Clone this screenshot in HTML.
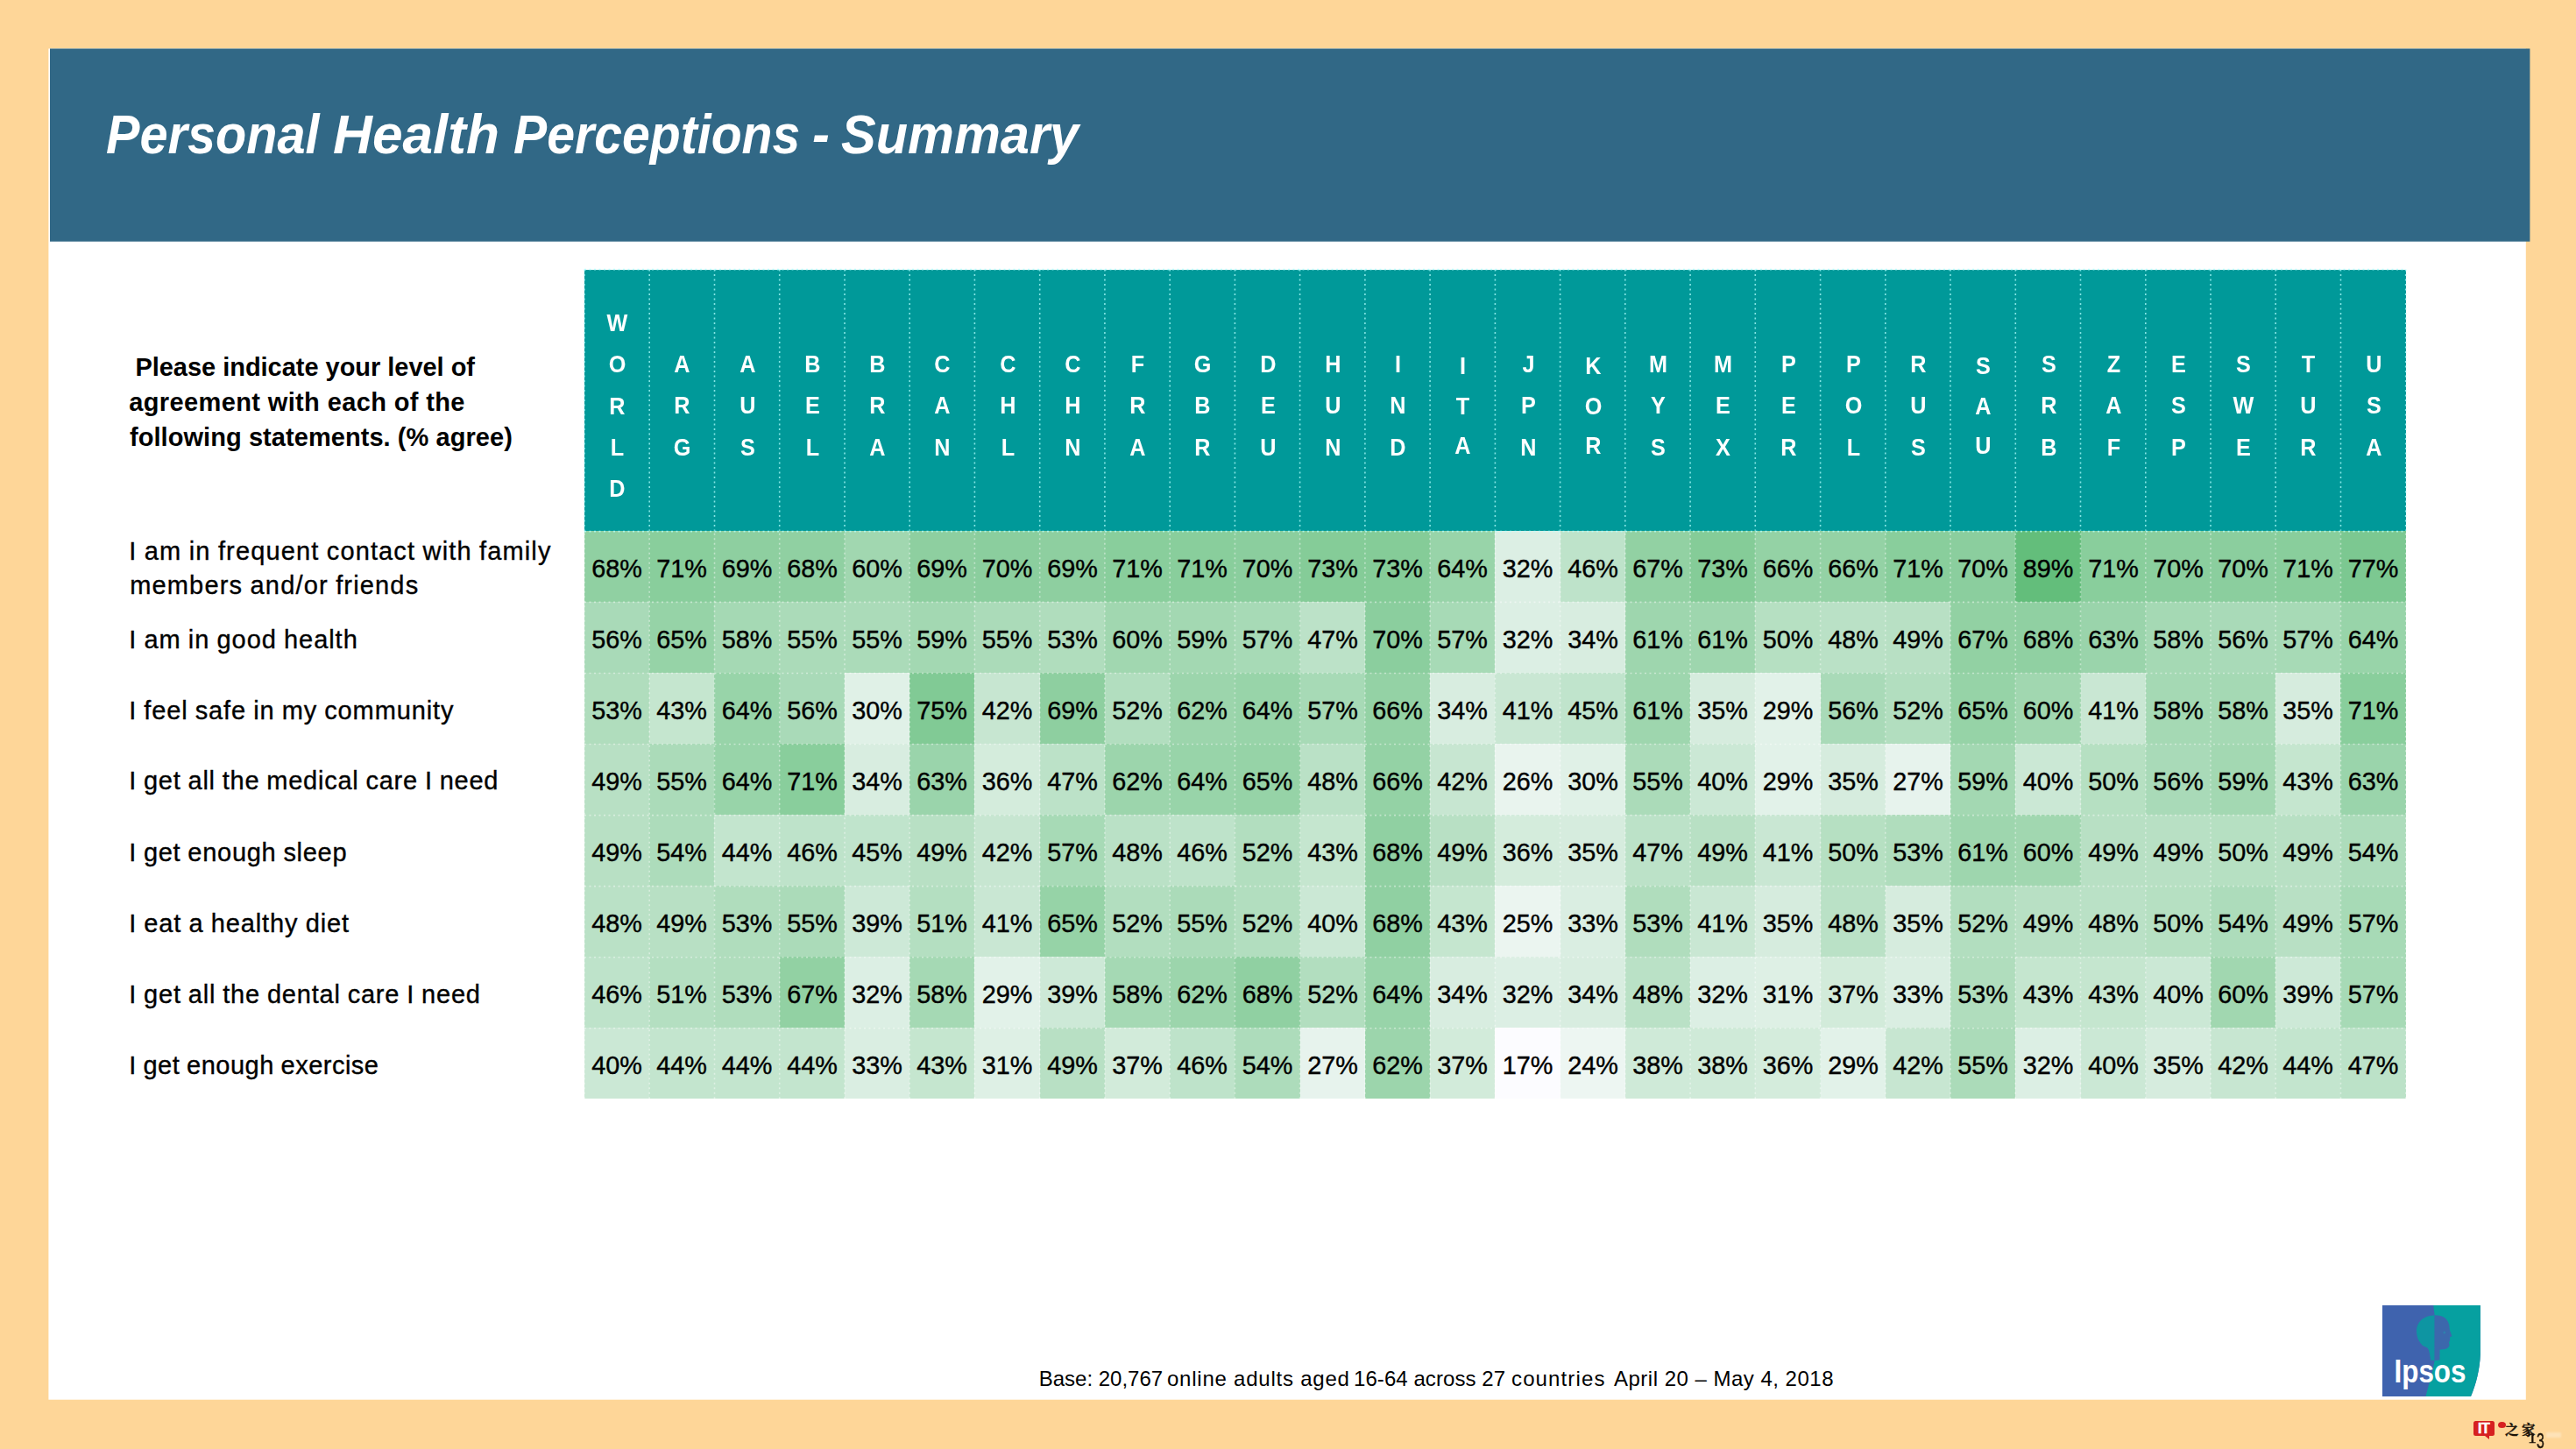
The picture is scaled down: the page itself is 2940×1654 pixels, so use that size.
<!DOCTYPE html>
<html lang="en">
<head>
<meta charset="utf-8">
<title>Personal Health Perceptions - Summary</title>
<style>
html,body{margin:0;padding:0;}
body{width:2940px;height:1654px;background:#fed698;position:relative;overflow:hidden;font-family:"Liberation Sans",sans-serif;color:#000;}
.abs{position:absolute;}
.t{position:absolute;white-space:pre;margin:0;}
#title{font-size:63px;line-height:72px;font-weight:bold;font-style:italic;color:#fff;}
.hc{position:absolute;top:308px;height:298px;box-sizing:border-box;padding-top:28px;background:#009999;color:#fff;font-weight:bold;font-size:28px;line-height:47.3px;text-align:center;display:flex;align-items:center;justify-content:center;}
.dc{position:absolute;box-sizing:border-box;padding-top:5px;font-size:28.8px;-webkit-text-stroke:0.4px #000;text-align:center;white-space:nowrap;}
.lab{font-size:29px;line-height:40px;word-spacing:-0.8px;-webkit-text-stroke:0.35px #000;}
.q{font-size:29px;line-height:40px;font-weight:bold;}
#foot{font-size:24px;line-height:32px;}
.hc span{display:inline-block;writing-mode:vertical-rl;text-orientation:upright;line-height:28px;letter-spacing:16.3px;transform:scaleX(.9);}
#grid{position:absolute;left:0;top:0;}
#logo{position:absolute;left:2719px;top:1490px;}
#wm{position:absolute;left:2823px;top:1622px;width:23.5px;height:17px;background:#d62020;border-radius:2.5px;color:#fff;font-weight:bold;font-size:16px;line-height:17.5px;text-align:center;letter-spacing:-0.3px;-webkit-text-stroke:0.5px #fff;}
#wm:after{content:"";position:absolute;left:13px;top:16.5px;border-left:5px solid transparent;border-top:4px solid #d62020;}
#wmdot{position:absolute;left:2851px;top:1622.5px;width:9px;height:7px;border-radius:50%;background:#d62020;}
#wmcn{font-family:"Liberation Serif","Noto Serif CJK SC",serif;font-weight:bold;font-size:15.5px;line-height:20px;letter-spacing:3.5px;color:#1a1208;-webkit-text-stroke:0.4px #1a1208;}
#pg{font-size:17px;line-height:20px;color:#1a1208;-webkit-text-stroke:0.4px #1a1208;}
</style>
</head>
<body>
<svg id="bg" class="abs" style="left:0;top:0" width="2940" height="1654" viewBox="0 0 2940 1654">
<rect x="55.4" y="55.5" width="2827.4" height="1542.2" fill="#fff"/>
<rect x="57" y="55.5" width="2830.4" height="220.2" fill="#316886"/>
</svg>
<div id="title" class="t" style="left:0;top:117.2px"><span id="tw0" style="position:absolute;left:121.1px;top:0;transform-origin:0 0;transform:scaleX(0.9154)">Personal </span><span id="tw1" style="position:absolute;left:379.5px;top:0;transform-origin:0 0;transform:scaleX(0.9868)">Health </span><span id="tw2" style="position:absolute;left:585.5px;top:0;transform-origin:0 0;transform:scaleX(0.9076)">Perceptions </span><span id="tw3" style="position:absolute;left:927.0px;top:0;transform-origin:0 0;transform:scaleX(0.9427)">- </span><span id="tw4" style="position:absolute;left:960.0px;top:0;transform-origin:0 0;transform:scaleX(0.9444)">Summary</span></div>
<div id="q0" class="t q" style="left:146.4px;top:398.9px;letter-spacing:-0.031px"> Please indicate your level of</div>
<div id="q1" class="t q" style="left:147.2px;top:438.9px;letter-spacing:0.378px">agreement with each of the</div>
<div id="q2" class="t q" style="left:148.0px;top:478.6px;letter-spacing:0.060px">following statements. (% agree)</div>
<div class="hc" style="left:667px;width:74px"><span>WORLD</span></div>
<div class="hc" style="left:741px;width:74px"><span>ARG</span></div>
<div class="hc" style="left:815px;width:75px"><span>AUS</span></div>
<div class="hc" style="left:890px;width:74px"><span>BEL</span></div>
<div class="hc" style="left:964px;width:74px"><span>BRA</span></div>
<div class="hc" style="left:1038px;width:74px"><span>CAN</span></div>
<div class="hc" style="left:1112px;width:75px"><span>CHL</span></div>
<div class="hc" style="left:1187px;width:74px"><span>CHN</span></div>
<div class="hc" style="left:1261px;width:74px"><span>FRA</span></div>
<div class="hc" style="left:1335px;width:74px"><span>GBR</span></div>
<div class="hc" style="left:1409px;width:75px"><span>DEU</span></div>
<div class="hc" style="left:1484px;width:74px"><span>HUN</span></div>
<div class="hc" style="left:1558px;width:74px"><span>IND</span></div>
<div class="hc" style="left:1632px;width:74px"><span style="letter-spacing:14.7px">ITA</span></div>
<div class="hc" style="left:1706px;width:75px"><span>JPN</span></div>
<div class="hc" style="left:1781px;width:74px"><span style="letter-spacing:14.7px">KOR</span></div>
<div class="hc" style="left:1855px;width:74px"><span>MYS</span></div>
<div class="hc" style="left:1929px;width:74px"><span>MEX</span></div>
<div class="hc" style="left:2003px;width:75px"><span>PER</span></div>
<div class="hc" style="left:2078px;width:74px"><span>POL</span></div>
<div class="hc" style="left:2152px;width:74px"><span>RUS</span></div>
<div class="hc" style="left:2226px;width:74px"><span style="letter-spacing:14.7px">SAU</span></div>
<div class="hc" style="left:2300px;width:75px"><span>SRB</span></div>
<div class="hc" style="left:2375px;width:74px"><span>ZAF</span></div>
<div class="hc" style="left:2449px;width:74px"><span>ESP</span></div>
<div class="hc" style="left:2523px;width:74px"><span>SWE</span></div>
<div class="hc" style="left:2597px;width:74px"><span>TUR</span></div>
<div class="hc" style="left:2671px;width:75px"><span>USA</span></div>
<div id="lab0_0" class="t lab" style="left:147.2px;top:608.7px;letter-spacing:1.131px">I am in frequent contact with family</div>
<div id="lab0_1" class="t lab" style="left:148.2px;top:648.4px;letter-spacing:1.157px">members and/or friends</div>
<div class="dc" style="left:667px;top:606px;width:74px;height:81px;line-height:76px;background:#90d0a2">68%</div>
<div class="dc" style="left:741px;top:606px;width:74px;height:81px;line-height:76px;background:#89ce9c">71%</div>
<div class="dc" style="left:815px;top:606px;width:75px;height:81px;line-height:76px;background:#8ecfa0">69%</div>
<div class="dc" style="left:890px;top:606px;width:74px;height:81px;line-height:76px;background:#90d0a2">68%</div>
<div class="dc" style="left:964px;top:606px;width:74px;height:81px;line-height:76px;background:#a1d7b0">60%</div>
<div class="dc" style="left:1038px;top:606px;width:74px;height:81px;line-height:76px;background:#8ecfa0">69%</div>
<div class="dc" style="left:1112px;top:606px;width:75px;height:81px;line-height:76px;background:#8bce9e">70%</div>
<div class="dc" style="left:1187px;top:606px;width:74px;height:81px;line-height:76px;background:#8ecfa0">69%</div>
<div class="dc" style="left:1261px;top:606px;width:74px;height:81px;line-height:76px;background:#89ce9c">71%</div>
<div class="dc" style="left:1335px;top:606px;width:74px;height:81px;line-height:76px;background:#89ce9c">71%</div>
<div class="dc" style="left:1409px;top:606px;width:75px;height:81px;line-height:76px;background:#8bce9e">70%</div>
<div class="dc" style="left:1484px;top:606px;width:74px;height:81px;line-height:76px;background:#85cc98">73%</div>
<div class="dc" style="left:1558px;top:606px;width:74px;height:81px;line-height:76px;background:#85cc98">73%</div>
<div class="dc" style="left:1632px;top:606px;width:74px;height:81px;line-height:76px;background:#98d4a9">64%</div>
<div class="dc" style="left:1706px;top:606px;width:75px;height:81px;line-height:76px;background:#dcefe4">32%</div>
<div class="dc" style="left:1781px;top:606px;width:74px;height:81px;line-height:76px;background:#bee3ca">46%</div>
<div class="dc" style="left:1855px;top:606px;width:74px;height:81px;line-height:76px;background:#92d1a3">67%</div>
<div class="dc" style="left:1929px;top:606px;width:74px;height:81px;line-height:76px;background:#85cc98">73%</div>
<div class="dc" style="left:2003px;top:606px;width:75px;height:81px;line-height:76px;background:#94d2a5">66%</div>
<div class="dc" style="left:2078px;top:606px;width:74px;height:81px;line-height:76px;background:#94d2a5">66%</div>
<div class="dc" style="left:2152px;top:606px;width:74px;height:81px;line-height:76px;background:#89ce9c">71%</div>
<div class="dc" style="left:2226px;top:606px;width:74px;height:81px;line-height:76px;background:#8bce9e">70%</div>
<div class="dc" style="left:2300px;top:606px;width:75px;height:81px;line-height:76px;background:#63be7b">89%</div>
<div class="dc" style="left:2375px;top:606px;width:74px;height:81px;line-height:76px;background:#89ce9c">71%</div>
<div class="dc" style="left:2449px;top:606px;width:74px;height:81px;line-height:76px;background:#8bce9e">70%</div>
<div class="dc" style="left:2523px;top:606px;width:74px;height:81px;line-height:76px;background:#8bce9e">70%</div>
<div class="dc" style="left:2597px;top:606px;width:74px;height:81px;line-height:76px;background:#89ce9c">71%</div>
<div class="dc" style="left:2671px;top:606px;width:75px;height:81px;line-height:76px;background:#7cc891">77%</div>
<div id="lab1_0" class="t lab" style="left:147.2px;top:709.6px;letter-spacing:0.950px">I am in good health</div>
<div class="dc" style="left:667px;top:687px;width:74px;height:81px;line-height:76px;background:#a9dab8">56%</div>
<div class="dc" style="left:741px;top:687px;width:74px;height:81px;line-height:76px;background:#96d3a7">65%</div>
<div class="dc" style="left:815px;top:687px;width:75px;height:81px;line-height:76px;background:#a5d9b4">58%</div>
<div class="dc" style="left:890px;top:687px;width:74px;height:81px;line-height:76px;background:#abdbb9">55%</div>
<div class="dc" style="left:964px;top:687px;width:74px;height:81px;line-height:76px;background:#abdbb9">55%</div>
<div class="dc" style="left:1038px;top:687px;width:74px;height:81px;line-height:76px;background:#a3d8b2">59%</div>
<div class="dc" style="left:1112px;top:687px;width:75px;height:81px;line-height:76px;background:#abdbb9">55%</div>
<div class="dc" style="left:1187px;top:687px;width:74px;height:81px;line-height:76px;background:#b0ddbd">53%</div>
<div class="dc" style="left:1261px;top:687px;width:74px;height:81px;line-height:76px;background:#a1d7b0">60%</div>
<div class="dc" style="left:1335px;top:687px;width:74px;height:81px;line-height:76px;background:#a3d8b2">59%</div>
<div class="dc" style="left:1409px;top:687px;width:75px;height:81px;line-height:76px;background:#a7dab6">57%</div>
<div class="dc" style="left:1484px;top:687px;width:74px;height:81px;line-height:76px;background:#bce2c8">47%</div>
<div class="dc" style="left:1558px;top:687px;width:74px;height:81px;line-height:76px;background:#8bce9e">70%</div>
<div class="dc" style="left:1632px;top:687px;width:74px;height:81px;line-height:76px;background:#a7dab6">57%</div>
<div class="dc" style="left:1706px;top:687px;width:75px;height:81px;line-height:76px;background:#dcefe4">32%</div>
<div class="dc" style="left:1781px;top:687px;width:74px;height:81px;line-height:76px;background:#d8ede0">34%</div>
<div class="dc" style="left:1855px;top:687px;width:74px;height:81px;line-height:76px;background:#9ed6ae">61%</div>
<div class="dc" style="left:1929px;top:687px;width:74px;height:81px;line-height:76px;background:#9ed6ae">61%</div>
<div class="dc" style="left:2003px;top:687px;width:75px;height:81px;line-height:76px;background:#b6e0c2">50%</div>
<div class="dc" style="left:2078px;top:687px;width:74px;height:81px;line-height:76px;background:#bae1c6">48%</div>
<div class="dc" style="left:2152px;top:687px;width:74px;height:81px;line-height:76px;background:#b8e0c4">49%</div>
<div class="dc" style="left:2226px;top:687px;width:74px;height:81px;line-height:76px;background:#92d1a3">67%</div>
<div class="dc" style="left:2300px;top:687px;width:75px;height:81px;line-height:76px;background:#90d0a2">68%</div>
<div class="dc" style="left:2375px;top:687px;width:74px;height:81px;line-height:76px;background:#9ad4ab">63%</div>
<div class="dc" style="left:2449px;top:687px;width:74px;height:81px;line-height:76px;background:#a5d9b4">58%</div>
<div class="dc" style="left:2523px;top:687px;width:74px;height:81px;line-height:76px;background:#a9dab8">56%</div>
<div class="dc" style="left:2597px;top:687px;width:74px;height:81px;line-height:76px;background:#a7dab6">57%</div>
<div class="dc" style="left:2671px;top:687px;width:75px;height:81px;line-height:76px;background:#98d4a9">64%</div>
<div id="lab2_0" class="t lab" style="left:147.2px;top:790.6px;letter-spacing:0.883px">I feel safe in my community</div>
<div class="dc" style="left:667px;top:768px;width:74px;height:81px;line-height:76px;background:#b0ddbd">53%</div>
<div class="dc" style="left:741px;top:768px;width:74px;height:81px;line-height:76px;background:#c5e6cf">43%</div>
<div class="dc" style="left:815px;top:768px;width:75px;height:81px;line-height:76px;background:#98d4a9">64%</div>
<div class="dc" style="left:890px;top:768px;width:74px;height:81px;line-height:76px;background:#a9dab8">56%</div>
<div class="dc" style="left:964px;top:768px;width:74px;height:81px;line-height:76px;background:#e0f1e7">30%</div>
<div class="dc" style="left:1038px;top:768px;width:74px;height:81px;line-height:76px;background:#81ca95">75%</div>
<div class="dc" style="left:1112px;top:768px;width:75px;height:81px;line-height:76px;background:#c7e6d1">42%</div>
<div class="dc" style="left:1187px;top:768px;width:74px;height:81px;line-height:76px;background:#8ecfa0">69%</div>
<div class="dc" style="left:1261px;top:768px;width:74px;height:81px;line-height:76px;background:#b2debf">52%</div>
<div class="dc" style="left:1335px;top:768px;width:74px;height:81px;line-height:76px;background:#9cd5ac">62%</div>
<div class="dc" style="left:1409px;top:768px;width:75px;height:81px;line-height:76px;background:#98d4a9">64%</div>
<div class="dc" style="left:1484px;top:768px;width:74px;height:81px;line-height:76px;background:#a7dab6">57%</div>
<div class="dc" style="left:1558px;top:768px;width:74px;height:81px;line-height:76px;background:#94d2a5">66%</div>
<div class="dc" style="left:1632px;top:768px;width:74px;height:81px;line-height:76px;background:#d8ede0">34%</div>
<div class="dc" style="left:1706px;top:768px;width:75px;height:81px;line-height:76px;background:#c9e7d3">41%</div>
<div class="dc" style="left:1781px;top:768px;width:74px;height:81px;line-height:76px;background:#c0e4cc">45%</div>
<div class="dc" style="left:1855px;top:768px;width:74px;height:81px;line-height:76px;background:#9ed6ae">61%</div>
<div class="dc" style="left:1929px;top:768px;width:74px;height:81px;line-height:76px;background:#d6ecde">35%</div>
<div class="dc" style="left:2003px;top:768px;width:75px;height:81px;line-height:76px;background:#e2f2e9">29%</div>
<div class="dc" style="left:2078px;top:768px;width:74px;height:81px;line-height:76px;background:#a9dab8">56%</div>
<div class="dc" style="left:2152px;top:768px;width:74px;height:81px;line-height:76px;background:#b2debf">52%</div>
<div class="dc" style="left:2226px;top:768px;width:74px;height:81px;line-height:76px;background:#96d3a7">65%</div>
<div class="dc" style="left:2300px;top:768px;width:75px;height:81px;line-height:76px;background:#a1d7b0">60%</div>
<div class="dc" style="left:2375px;top:768px;width:74px;height:81px;line-height:76px;background:#c9e7d3">41%</div>
<div class="dc" style="left:2449px;top:768px;width:74px;height:81px;line-height:76px;background:#a5d9b4">58%</div>
<div class="dc" style="left:2523px;top:768px;width:74px;height:81px;line-height:76px;background:#a5d9b4">58%</div>
<div class="dc" style="left:2597px;top:768px;width:74px;height:81px;line-height:76px;background:#d6ecde">35%</div>
<div class="dc" style="left:2671px;top:768px;width:75px;height:81px;line-height:76px;background:#89ce9c">71%</div>
<div id="lab3_0" class="t lab" style="left:147.2px;top:871.4px;letter-spacing:0.745px">I get all the medical care I need</div>
<div class="dc" style="left:667px;top:849px;width:74px;height:81px;line-height:76px;background:#b8e0c4">49%</div>
<div class="dc" style="left:741px;top:849px;width:74px;height:81px;line-height:76px;background:#abdbb9">55%</div>
<div class="dc" style="left:815px;top:849px;width:75px;height:81px;line-height:76px;background:#98d4a9">64%</div>
<div class="dc" style="left:890px;top:849px;width:74px;height:81px;line-height:76px;background:#89ce9c">71%</div>
<div class="dc" style="left:964px;top:849px;width:74px;height:81px;line-height:76px;background:#d8ede0">34%</div>
<div class="dc" style="left:1038px;top:849px;width:74px;height:81px;line-height:76px;background:#9ad4ab">63%</div>
<div class="dc" style="left:1112px;top:849px;width:75px;height:81px;line-height:76px;background:#d4ecdc">36%</div>
<div class="dc" style="left:1187px;top:849px;width:74px;height:81px;line-height:76px;background:#bce2c8">47%</div>
<div class="dc" style="left:1261px;top:849px;width:74px;height:81px;line-height:76px;background:#9cd5ac">62%</div>
<div class="dc" style="left:1335px;top:849px;width:74px;height:81px;line-height:76px;background:#98d4a9">64%</div>
<div class="dc" style="left:1409px;top:849px;width:75px;height:81px;line-height:76px;background:#96d3a7">65%</div>
<div class="dc" style="left:1484px;top:849px;width:74px;height:81px;line-height:76px;background:#bae1c6">48%</div>
<div class="dc" style="left:1558px;top:849px;width:74px;height:81px;line-height:76px;background:#94d2a5">66%</div>
<div class="dc" style="left:1632px;top:849px;width:74px;height:81px;line-height:76px;background:#c7e6d1">42%</div>
<div class="dc" style="left:1706px;top:849px;width:75px;height:81px;line-height:76px;background:#e9f4ee">26%</div>
<div class="dc" style="left:1781px;top:849px;width:74px;height:81px;line-height:76px;background:#e0f1e7">30%</div>
<div class="dc" style="left:1855px;top:849px;width:74px;height:81px;line-height:76px;background:#abdbb9">55%</div>
<div class="dc" style="left:1929px;top:849px;width:74px;height:81px;line-height:76px;background:#cbe8d5">40%</div>
<div class="dc" style="left:2003px;top:849px;width:75px;height:81px;line-height:76px;background:#e2f2e9">29%</div>
<div class="dc" style="left:2078px;top:849px;width:74px;height:81px;line-height:76px;background:#d6ecde">35%</div>
<div class="dc" style="left:2152px;top:849px;width:74px;height:81px;line-height:76px;background:#e7f3ed">27%</div>
<div class="dc" style="left:2226px;top:849px;width:74px;height:81px;line-height:76px;background:#a3d8b2">59%</div>
<div class="dc" style="left:2300px;top:849px;width:75px;height:81px;line-height:76px;background:#cbe8d5">40%</div>
<div class="dc" style="left:2375px;top:849px;width:74px;height:81px;line-height:76px;background:#b6e0c2">50%</div>
<div class="dc" style="left:2449px;top:849px;width:74px;height:81px;line-height:76px;background:#a9dab8">56%</div>
<div class="dc" style="left:2523px;top:849px;width:74px;height:81px;line-height:76px;background:#a3d8b2">59%</div>
<div class="dc" style="left:2597px;top:849px;width:74px;height:81px;line-height:76px;background:#c5e6cf">43%</div>
<div class="dc" style="left:2671px;top:849px;width:75px;height:81px;line-height:76px;background:#9ad4ab">63%</div>
<div id="lab4_0" class="t lab" style="left:147.2px;top:952.5px;letter-spacing:0.715px">I get enough sleep</div>
<div class="dc" style="left:667px;top:930px;width:74px;height:81px;line-height:76px;background:#b8e0c4">49%</div>
<div class="dc" style="left:741px;top:930px;width:74px;height:81px;line-height:76px;background:#addcbb">54%</div>
<div class="dc" style="left:815px;top:930px;width:75px;height:81px;line-height:76px;background:#c3e5ce">44%</div>
<div class="dc" style="left:890px;top:930px;width:74px;height:81px;line-height:76px;background:#bee3ca">46%</div>
<div class="dc" style="left:964px;top:930px;width:74px;height:81px;line-height:76px;background:#c0e4cc">45%</div>
<div class="dc" style="left:1038px;top:930px;width:74px;height:81px;line-height:76px;background:#b8e0c4">49%</div>
<div class="dc" style="left:1112px;top:930px;width:75px;height:81px;line-height:76px;background:#c7e6d1">42%</div>
<div class="dc" style="left:1187px;top:930px;width:74px;height:81px;line-height:76px;background:#a7dab6">57%</div>
<div class="dc" style="left:1261px;top:930px;width:74px;height:81px;line-height:76px;background:#bae1c6">48%</div>
<div class="dc" style="left:1335px;top:930px;width:74px;height:81px;line-height:76px;background:#bee3ca">46%</div>
<div class="dc" style="left:1409px;top:930px;width:75px;height:81px;line-height:76px;background:#b2debf">52%</div>
<div class="dc" style="left:1484px;top:930px;width:74px;height:81px;line-height:76px;background:#c5e6cf">43%</div>
<div class="dc" style="left:1558px;top:930px;width:74px;height:81px;line-height:76px;background:#90d0a2">68%</div>
<div class="dc" style="left:1632px;top:930px;width:74px;height:81px;line-height:76px;background:#b8e0c4">49%</div>
<div class="dc" style="left:1706px;top:930px;width:75px;height:81px;line-height:76px;background:#d4ecdc">36%</div>
<div class="dc" style="left:1781px;top:930px;width:74px;height:81px;line-height:76px;background:#d6ecde">35%</div>
<div class="dc" style="left:1855px;top:930px;width:74px;height:81px;line-height:76px;background:#bce2c8">47%</div>
<div class="dc" style="left:1929px;top:930px;width:74px;height:81px;line-height:76px;background:#b8e0c4">49%</div>
<div class="dc" style="left:2003px;top:930px;width:75px;height:81px;line-height:76px;background:#c9e7d3">41%</div>
<div class="dc" style="left:2078px;top:930px;width:74px;height:81px;line-height:76px;background:#b6e0c2">50%</div>
<div class="dc" style="left:2152px;top:930px;width:74px;height:81px;line-height:76px;background:#b0ddbd">53%</div>
<div class="dc" style="left:2226px;top:930px;width:74px;height:81px;line-height:76px;background:#9ed6ae">61%</div>
<div class="dc" style="left:2300px;top:930px;width:75px;height:81px;line-height:76px;background:#a1d7b0">60%</div>
<div class="dc" style="left:2375px;top:930px;width:74px;height:81px;line-height:76px;background:#b8e0c4">49%</div>
<div class="dc" style="left:2449px;top:930px;width:74px;height:81px;line-height:76px;background:#b8e0c4">49%</div>
<div class="dc" style="left:2523px;top:930px;width:74px;height:81px;line-height:76px;background:#b6e0c2">50%</div>
<div class="dc" style="left:2597px;top:930px;width:74px;height:81px;line-height:76px;background:#b8e0c4">49%</div>
<div class="dc" style="left:2671px;top:930px;width:75px;height:81px;line-height:76px;background:#addcbb">54%</div>
<div id="lab5_0" class="t lab" style="left:147.2px;top:1033.9px;letter-spacing:0.900px">I eat a healthy diet</div>
<div class="dc" style="left:667px;top:1011px;width:74px;height:81px;line-height:76px;background:#bae1c6">48%</div>
<div class="dc" style="left:741px;top:1011px;width:74px;height:81px;line-height:76px;background:#b8e0c4">49%</div>
<div class="dc" style="left:815px;top:1011px;width:75px;height:81px;line-height:76px;background:#b0ddbd">53%</div>
<div class="dc" style="left:890px;top:1011px;width:74px;height:81px;line-height:76px;background:#abdbb9">55%</div>
<div class="dc" style="left:964px;top:1011px;width:74px;height:81px;line-height:76px;background:#cde9d7">39%</div>
<div class="dc" style="left:1038px;top:1011px;width:74px;height:81px;line-height:76px;background:#b4dfc1">51%</div>
<div class="dc" style="left:1112px;top:1011px;width:75px;height:81px;line-height:76px;background:#c9e7d3">41%</div>
<div class="dc" style="left:1187px;top:1011px;width:74px;height:81px;line-height:76px;background:#96d3a7">65%</div>
<div class="dc" style="left:1261px;top:1011px;width:74px;height:81px;line-height:76px;background:#b2debf">52%</div>
<div class="dc" style="left:1335px;top:1011px;width:74px;height:81px;line-height:76px;background:#abdbb9">55%</div>
<div class="dc" style="left:1409px;top:1011px;width:75px;height:81px;line-height:76px;background:#b2debf">52%</div>
<div class="dc" style="left:1484px;top:1011px;width:74px;height:81px;line-height:76px;background:#cbe8d5">40%</div>
<div class="dc" style="left:1558px;top:1011px;width:74px;height:81px;line-height:76px;background:#90d0a2">68%</div>
<div class="dc" style="left:1632px;top:1011px;width:74px;height:81px;line-height:76px;background:#c5e6cf">43%</div>
<div class="dc" style="left:1706px;top:1011px;width:75px;height:81px;line-height:76px;background:#ebf5f0">25%</div>
<div class="dc" style="left:1781px;top:1011px;width:74px;height:81px;line-height:76px;background:#daeee2">33%</div>
<div class="dc" style="left:1855px;top:1011px;width:74px;height:81px;line-height:76px;background:#b0ddbd">53%</div>
<div class="dc" style="left:1929px;top:1011px;width:74px;height:81px;line-height:76px;background:#c9e7d3">41%</div>
<div class="dc" style="left:2003px;top:1011px;width:75px;height:81px;line-height:76px;background:#d6ecde">35%</div>
<div class="dc" style="left:2078px;top:1011px;width:74px;height:81px;line-height:76px;background:#bae1c6">48%</div>
<div class="dc" style="left:2152px;top:1011px;width:74px;height:81px;line-height:76px;background:#d6ecde">35%</div>
<div class="dc" style="left:2226px;top:1011px;width:74px;height:81px;line-height:76px;background:#b2debf">52%</div>
<div class="dc" style="left:2300px;top:1011px;width:75px;height:81px;line-height:76px;background:#b8e0c4">49%</div>
<div class="dc" style="left:2375px;top:1011px;width:74px;height:81px;line-height:76px;background:#bae1c6">48%</div>
<div class="dc" style="left:2449px;top:1011px;width:74px;height:81px;line-height:76px;background:#b6e0c2">50%</div>
<div class="dc" style="left:2523px;top:1011px;width:74px;height:81px;line-height:76px;background:#addcbb">54%</div>
<div class="dc" style="left:2597px;top:1011px;width:74px;height:81px;line-height:76px;background:#b8e0c4">49%</div>
<div class="dc" style="left:2671px;top:1011px;width:75px;height:81px;line-height:76px;background:#a7dab6">57%</div>
<div id="lab6_0" class="t lab" style="left:147.2px;top:1115.0px;letter-spacing:0.784px">I get all the dental care I need</div>
<div class="dc" style="left:667px;top:1092px;width:74px;height:81px;line-height:76px;background:#bee3ca">46%</div>
<div class="dc" style="left:741px;top:1092px;width:74px;height:81px;line-height:76px;background:#b4dfc1">51%</div>
<div class="dc" style="left:815px;top:1092px;width:75px;height:81px;line-height:76px;background:#b0ddbd">53%</div>
<div class="dc" style="left:890px;top:1092px;width:74px;height:81px;line-height:76px;background:#92d1a3">67%</div>
<div class="dc" style="left:964px;top:1092px;width:74px;height:81px;line-height:76px;background:#dcefe4">32%</div>
<div class="dc" style="left:1038px;top:1092px;width:74px;height:81px;line-height:76px;background:#a5d9b4">58%</div>
<div class="dc" style="left:1112px;top:1092px;width:75px;height:81px;line-height:76px;background:#e2f2e9">29%</div>
<div class="dc" style="left:1187px;top:1092px;width:74px;height:81px;line-height:76px;background:#cde9d7">39%</div>
<div class="dc" style="left:1261px;top:1092px;width:74px;height:81px;line-height:76px;background:#a5d9b4">58%</div>
<div class="dc" style="left:1335px;top:1092px;width:74px;height:81px;line-height:76px;background:#9cd5ac">62%</div>
<div class="dc" style="left:1409px;top:1092px;width:75px;height:81px;line-height:76px;background:#90d0a2">68%</div>
<div class="dc" style="left:1484px;top:1092px;width:74px;height:81px;line-height:76px;background:#b2debf">52%</div>
<div class="dc" style="left:1558px;top:1092px;width:74px;height:81px;line-height:76px;background:#98d4a9">64%</div>
<div class="dc" style="left:1632px;top:1092px;width:74px;height:81px;line-height:76px;background:#d8ede0">34%</div>
<div class="dc" style="left:1706px;top:1092px;width:75px;height:81px;line-height:76px;background:#dcefe4">32%</div>
<div class="dc" style="left:1781px;top:1092px;width:74px;height:81px;line-height:76px;background:#d8ede0">34%</div>
<div class="dc" style="left:1855px;top:1092px;width:74px;height:81px;line-height:76px;background:#bae1c6">48%</div>
<div class="dc" style="left:1929px;top:1092px;width:74px;height:81px;line-height:76px;background:#dcefe4">32%</div>
<div class="dc" style="left:2003px;top:1092px;width:75px;height:81px;line-height:76px;background:#def0e5">31%</div>
<div class="dc" style="left:2078px;top:1092px;width:74px;height:81px;line-height:76px;background:#d2ebda">37%</div>
<div class="dc" style="left:2152px;top:1092px;width:74px;height:81px;line-height:76px;background:#daeee2">33%</div>
<div class="dc" style="left:2226px;top:1092px;width:74px;height:81px;line-height:76px;background:#b0ddbd">53%</div>
<div class="dc" style="left:2300px;top:1092px;width:75px;height:81px;line-height:76px;background:#c5e6cf">43%</div>
<div class="dc" style="left:2375px;top:1092px;width:74px;height:81px;line-height:76px;background:#c5e6cf">43%</div>
<div class="dc" style="left:2449px;top:1092px;width:74px;height:81px;line-height:76px;background:#cbe8d5">40%</div>
<div class="dc" style="left:2523px;top:1092px;width:74px;height:81px;line-height:76px;background:#a1d7b0">60%</div>
<div class="dc" style="left:2597px;top:1092px;width:74px;height:81px;line-height:76px;background:#cde9d7">39%</div>
<div class="dc" style="left:2671px;top:1092px;width:75px;height:81px;line-height:76px;background:#a7dab6">57%</div>
<div id="lab7_0" class="t lab" style="left:147.2px;top:1195.8px;letter-spacing:0.495px">I get enough exercise</div>
<div class="dc" style="left:667px;top:1173px;width:74px;height:81px;line-height:76px;background:#cbe8d5">40%</div>
<div class="dc" style="left:741px;top:1173px;width:74px;height:81px;line-height:76px;background:#c3e5ce">44%</div>
<div class="dc" style="left:815px;top:1173px;width:75px;height:81px;line-height:76px;background:#c3e5ce">44%</div>
<div class="dc" style="left:890px;top:1173px;width:74px;height:81px;line-height:76px;background:#c3e5ce">44%</div>
<div class="dc" style="left:964px;top:1173px;width:74px;height:81px;line-height:76px;background:#daeee2">33%</div>
<div class="dc" style="left:1038px;top:1173px;width:74px;height:81px;line-height:76px;background:#c5e6cf">43%</div>
<div class="dc" style="left:1112px;top:1173px;width:75px;height:81px;line-height:76px;background:#def0e5">31%</div>
<div class="dc" style="left:1187px;top:1173px;width:74px;height:81px;line-height:76px;background:#b8e0c4">49%</div>
<div class="dc" style="left:1261px;top:1173px;width:74px;height:81px;line-height:76px;background:#d2ebda">37%</div>
<div class="dc" style="left:1335px;top:1173px;width:74px;height:81px;line-height:76px;background:#bee3ca">46%</div>
<div class="dc" style="left:1409px;top:1173px;width:75px;height:81px;line-height:76px;background:#addcbb">54%</div>
<div class="dc" style="left:1484px;top:1173px;width:74px;height:81px;line-height:76px;background:#e7f3ed">27%</div>
<div class="dc" style="left:1558px;top:1173px;width:74px;height:81px;line-height:76px;background:#9cd5ac">62%</div>
<div class="dc" style="left:1632px;top:1173px;width:74px;height:81px;line-height:76px;background:#d2ebda">37%</div>
<div class="dc" style="left:1706px;top:1173px;width:75px;height:81px;line-height:76px;background:#fcfcff">17%</div>
<div class="dc" style="left:1781px;top:1173px;width:74px;height:81px;line-height:76px;background:#edf6f2">24%</div>
<div class="dc" style="left:1855px;top:1173px;width:74px;height:81px;line-height:76px;background:#cfead8">38%</div>
<div class="dc" style="left:1929px;top:1173px;width:74px;height:81px;line-height:76px;background:#cfead8">38%</div>
<div class="dc" style="left:2003px;top:1173px;width:75px;height:81px;line-height:76px;background:#d4ecdc">36%</div>
<div class="dc" style="left:2078px;top:1173px;width:74px;height:81px;line-height:76px;background:#e2f2e9">29%</div>
<div class="dc" style="left:2152px;top:1173px;width:74px;height:81px;line-height:76px;background:#c7e6d1">42%</div>
<div class="dc" style="left:2226px;top:1173px;width:74px;height:81px;line-height:76px;background:#abdbb9">55%</div>
<div class="dc" style="left:2300px;top:1173px;width:75px;height:81px;line-height:76px;background:#dcefe4">32%</div>
<div class="dc" style="left:2375px;top:1173px;width:74px;height:81px;line-height:76px;background:#cbe8d5">40%</div>
<div class="dc" style="left:2449px;top:1173px;width:74px;height:81px;line-height:76px;background:#d6ecde">35%</div>
<div class="dc" style="left:2523px;top:1173px;width:74px;height:81px;line-height:76px;background:#c7e6d1">42%</div>
<div class="dc" style="left:2597px;top:1173px;width:74px;height:81px;line-height:76px;background:#c3e5ce">44%</div>
<div class="dc" style="left:2671px;top:1173px;width:75px;height:81px;line-height:76px;background:#bce2c8">47%</div>
<svg id="grid" width="2940" height="1654" viewBox="0 0 2940 1654" fill="none" stroke="#fff" stroke-dasharray="2 3.5">
<g stroke="#b0ffff" stroke-opacity="0.75" stroke-width="1.6">
<line x1="667.0" y1="307.6" x2="667.0" y2="605.8"/>
<line x1="741.2" y1="307.6" x2="741.2" y2="605.8"/>
<line x1="815.5" y1="307.6" x2="815.5" y2="605.8"/>
<line x1="889.7" y1="307.6" x2="889.7" y2="605.8"/>
<line x1="964.0" y1="307.6" x2="964.0" y2="605.8"/>
<line x1="1038.2" y1="307.6" x2="1038.2" y2="605.8"/>
<line x1="1112.4" y1="307.6" x2="1112.4" y2="605.8"/>
<line x1="1186.7" y1="307.6" x2="1186.7" y2="605.8"/>
<line x1="1260.9" y1="307.6" x2="1260.9" y2="605.8"/>
<line x1="1335.2" y1="307.6" x2="1335.2" y2="605.8"/>
<line x1="1409.4" y1="307.6" x2="1409.4" y2="605.8"/>
<line x1="1483.6" y1="307.6" x2="1483.6" y2="605.8"/>
<line x1="1557.9" y1="307.6" x2="1557.9" y2="605.8"/>
<line x1="1632.1" y1="307.6" x2="1632.1" y2="605.8"/>
<line x1="1706.4" y1="307.6" x2="1706.4" y2="605.8"/>
<line x1="1780.6" y1="307.6" x2="1780.6" y2="605.8"/>
<line x1="1854.8" y1="307.6" x2="1854.8" y2="605.8"/>
<line x1="1929.1" y1="307.6" x2="1929.1" y2="605.8"/>
<line x1="2003.3" y1="307.6" x2="2003.3" y2="605.8"/>
<line x1="2077.6" y1="307.6" x2="2077.6" y2="605.8"/>
<line x1="2151.8" y1="307.6" x2="2151.8" y2="605.8"/>
<line x1="2226.0" y1="307.6" x2="2226.0" y2="605.8"/>
<line x1="2300.3" y1="307.6" x2="2300.3" y2="605.8"/>
<line x1="2374.5" y1="307.6" x2="2374.5" y2="605.8"/>
<line x1="2448.8" y1="307.6" x2="2448.8" y2="605.8"/>
<line x1="2523.0" y1="307.6" x2="2523.0" y2="605.8"/>
<line x1="2597.2" y1="307.6" x2="2597.2" y2="605.8"/>
<line x1="2671.5" y1="307.6" x2="2671.5" y2="605.8"/>
<line x1="2745.7" y1="307.6" x2="2745.7" y2="605.8"/>
<line x1="667.0" y1="307.6" x2="2745.7" y2="307.6"/>
<line x1="667.0" y1="606.6" x2="2745.7" y2="606.6"/>
</g>
<g stroke-opacity="0.45" stroke-width="1.6">
<line x1="667.0" y1="608.8" x2="667.0" y2="1254.2"/>
<line x1="741.2" y1="608.8" x2="741.2" y2="1254.2"/>
<line x1="815.5" y1="608.8" x2="815.5" y2="1254.2"/>
<line x1="889.7" y1="608.8" x2="889.7" y2="1254.2"/>
<line x1="964.0" y1="608.8" x2="964.0" y2="1254.2"/>
<line x1="1038.2" y1="608.8" x2="1038.2" y2="1254.2"/>
<line x1="1112.4" y1="608.8" x2="1112.4" y2="1254.2"/>
<line x1="1186.7" y1="608.8" x2="1186.7" y2="1254.2"/>
<line x1="1260.9" y1="608.8" x2="1260.9" y2="1254.2"/>
<line x1="1335.2" y1="608.8" x2="1335.2" y2="1254.2"/>
<line x1="1409.4" y1="608.8" x2="1409.4" y2="1254.2"/>
<line x1="1483.6" y1="608.8" x2="1483.6" y2="1254.2"/>
<line x1="1557.9" y1="608.8" x2="1557.9" y2="1254.2"/>
<line x1="1632.1" y1="608.8" x2="1632.1" y2="1254.2"/>
<line x1="1706.4" y1="608.8" x2="1706.4" y2="1254.2"/>
<line x1="1780.6" y1="608.8" x2="1780.6" y2="1254.2"/>
<line x1="1854.8" y1="608.8" x2="1854.8" y2="1254.2"/>
<line x1="1929.1" y1="608.8" x2="1929.1" y2="1254.2"/>
<line x1="2003.3" y1="608.8" x2="2003.3" y2="1254.2"/>
<line x1="2077.6" y1="608.8" x2="2077.6" y2="1254.2"/>
<line x1="2151.8" y1="608.8" x2="2151.8" y2="1254.2"/>
<line x1="2226.0" y1="608.8" x2="2226.0" y2="1254.2"/>
<line x1="2300.3" y1="608.8" x2="2300.3" y2="1254.2"/>
<line x1="2374.5" y1="608.8" x2="2374.5" y2="1254.2"/>
<line x1="2448.8" y1="608.8" x2="2448.8" y2="1254.2"/>
<line x1="2523.0" y1="608.8" x2="2523.0" y2="1254.2"/>
<line x1="2597.2" y1="608.8" x2="2597.2" y2="1254.2"/>
<line x1="2671.5" y1="608.8" x2="2671.5" y2="1254.2"/>
<line x1="2745.7" y1="608.8" x2="2745.7" y2="1254.2"/>
<line x1="667.0" y1="687.4" x2="2745.7" y2="687.4"/>
<line x1="667.0" y1="768.5" x2="2745.7" y2="768.5"/>
<line x1="667.0" y1="849.5" x2="2745.7" y2="849.5"/>
<line x1="667.0" y1="930.6" x2="2745.7" y2="930.6"/>
<line x1="667.0" y1="1011.6" x2="2745.7" y2="1011.6"/>
<line x1="667.0" y1="1092.7" x2="2745.7" y2="1092.7"/>
<line x1="667.0" y1="1173.8" x2="2745.7" y2="1173.8"/>
<line x1="667.0" y1="1254.8" x2="2745.7" y2="1254.8"/>
</g>
</svg>
<div id="foot" class="t" style="left:0;top:1558.3px"><span id="fw0" style="position:absolute;left:1185.7px;top:0;letter-spacing:0.000px">Base: 20,767 </span><span id="fw1" style="position:absolute;left:1332.0px;top:0;letter-spacing:0.768px">online adults aged </span><span id="fw2" style="position:absolute;left:1545.0px;top:0;letter-spacing:0.064px">16-64 across 27 </span><span id="fw3" style="position:absolute;left:1725.0px;top:0;letter-spacing:1.125px">countries  </span><span id="fw4" style="position:absolute;left:1842.0px;top:0;letter-spacing:0.493px">April 20 – May 4, 2018</span></div>
<svg id="logo" width="114" height="105" viewBox="0 0 114 105">
<path d="M0,0 H111.8 V56 C111.4,72 107,90 101,104 H0 Z" fill="#3f63ae"/>
<path d="M58.2,0 H111.8 V56 C111.4,72 107,90 101,104 H49.5 C52.5,92 56.5,80 59.6,63 L59.6,11 Z" fill="#06a0a0"/>
<g opacity="0.92">
<path d="M59.6,11.4 C47,11.4 39,19 39,29 C39,37 42,42 46,46 C49,47.5 51.5,48 52.5,50 C54,54 54.5,58 55,62.5 L59.6,63 Z" fill="#0a9aa2"/>
<path d="M59.6,11.2 C69,11 75.5,15 76.4,24 L76.8,28 L79.4,35 L77,36.5 L77.2,40 L76,42 L76.5,46 C75,50 70,50.5 65.6,50.5 L65.4,62.5 L59.6,63 Z" fill="#4164ae"/>
</g>
<circle cx="70.8" cy="31" r="1.5" fill="#2f7fae"/>
<text x="13.5" y="87.5" font-family="Liberation Sans, sans-serif" font-weight="bold" font-size="37" fill="#fff" textLength="82" lengthAdjust="spacingAndGlyphs">Ipsos</text>
</svg>
<div id="wm">IT</div><div id="wmdot"></div><div class="abs" style="left:2906px;top:1634.5px;width:17px;height:6px;background:rgba(255,255,255,.3);filter:blur(1.2px)"></div>
<div id="wmcn" class="t" style="left:2859px;top:1622.5px">之家</div>
<div id="pg" class="t" style="left:2884.5px;top:1628.8px"><span style="font-family:Liberation Serif,serif;font-size:16px;display:inline-block;transform-origin:0 100%;transform:scaleX(1.25)">1</span><span style="font-size:24px;display:inline-block;position:relative;top:6px;margin-left:2.5px;transform-origin:0 100%;transform:scaleX(0.66)">3</span></div>
</body>
</html>
